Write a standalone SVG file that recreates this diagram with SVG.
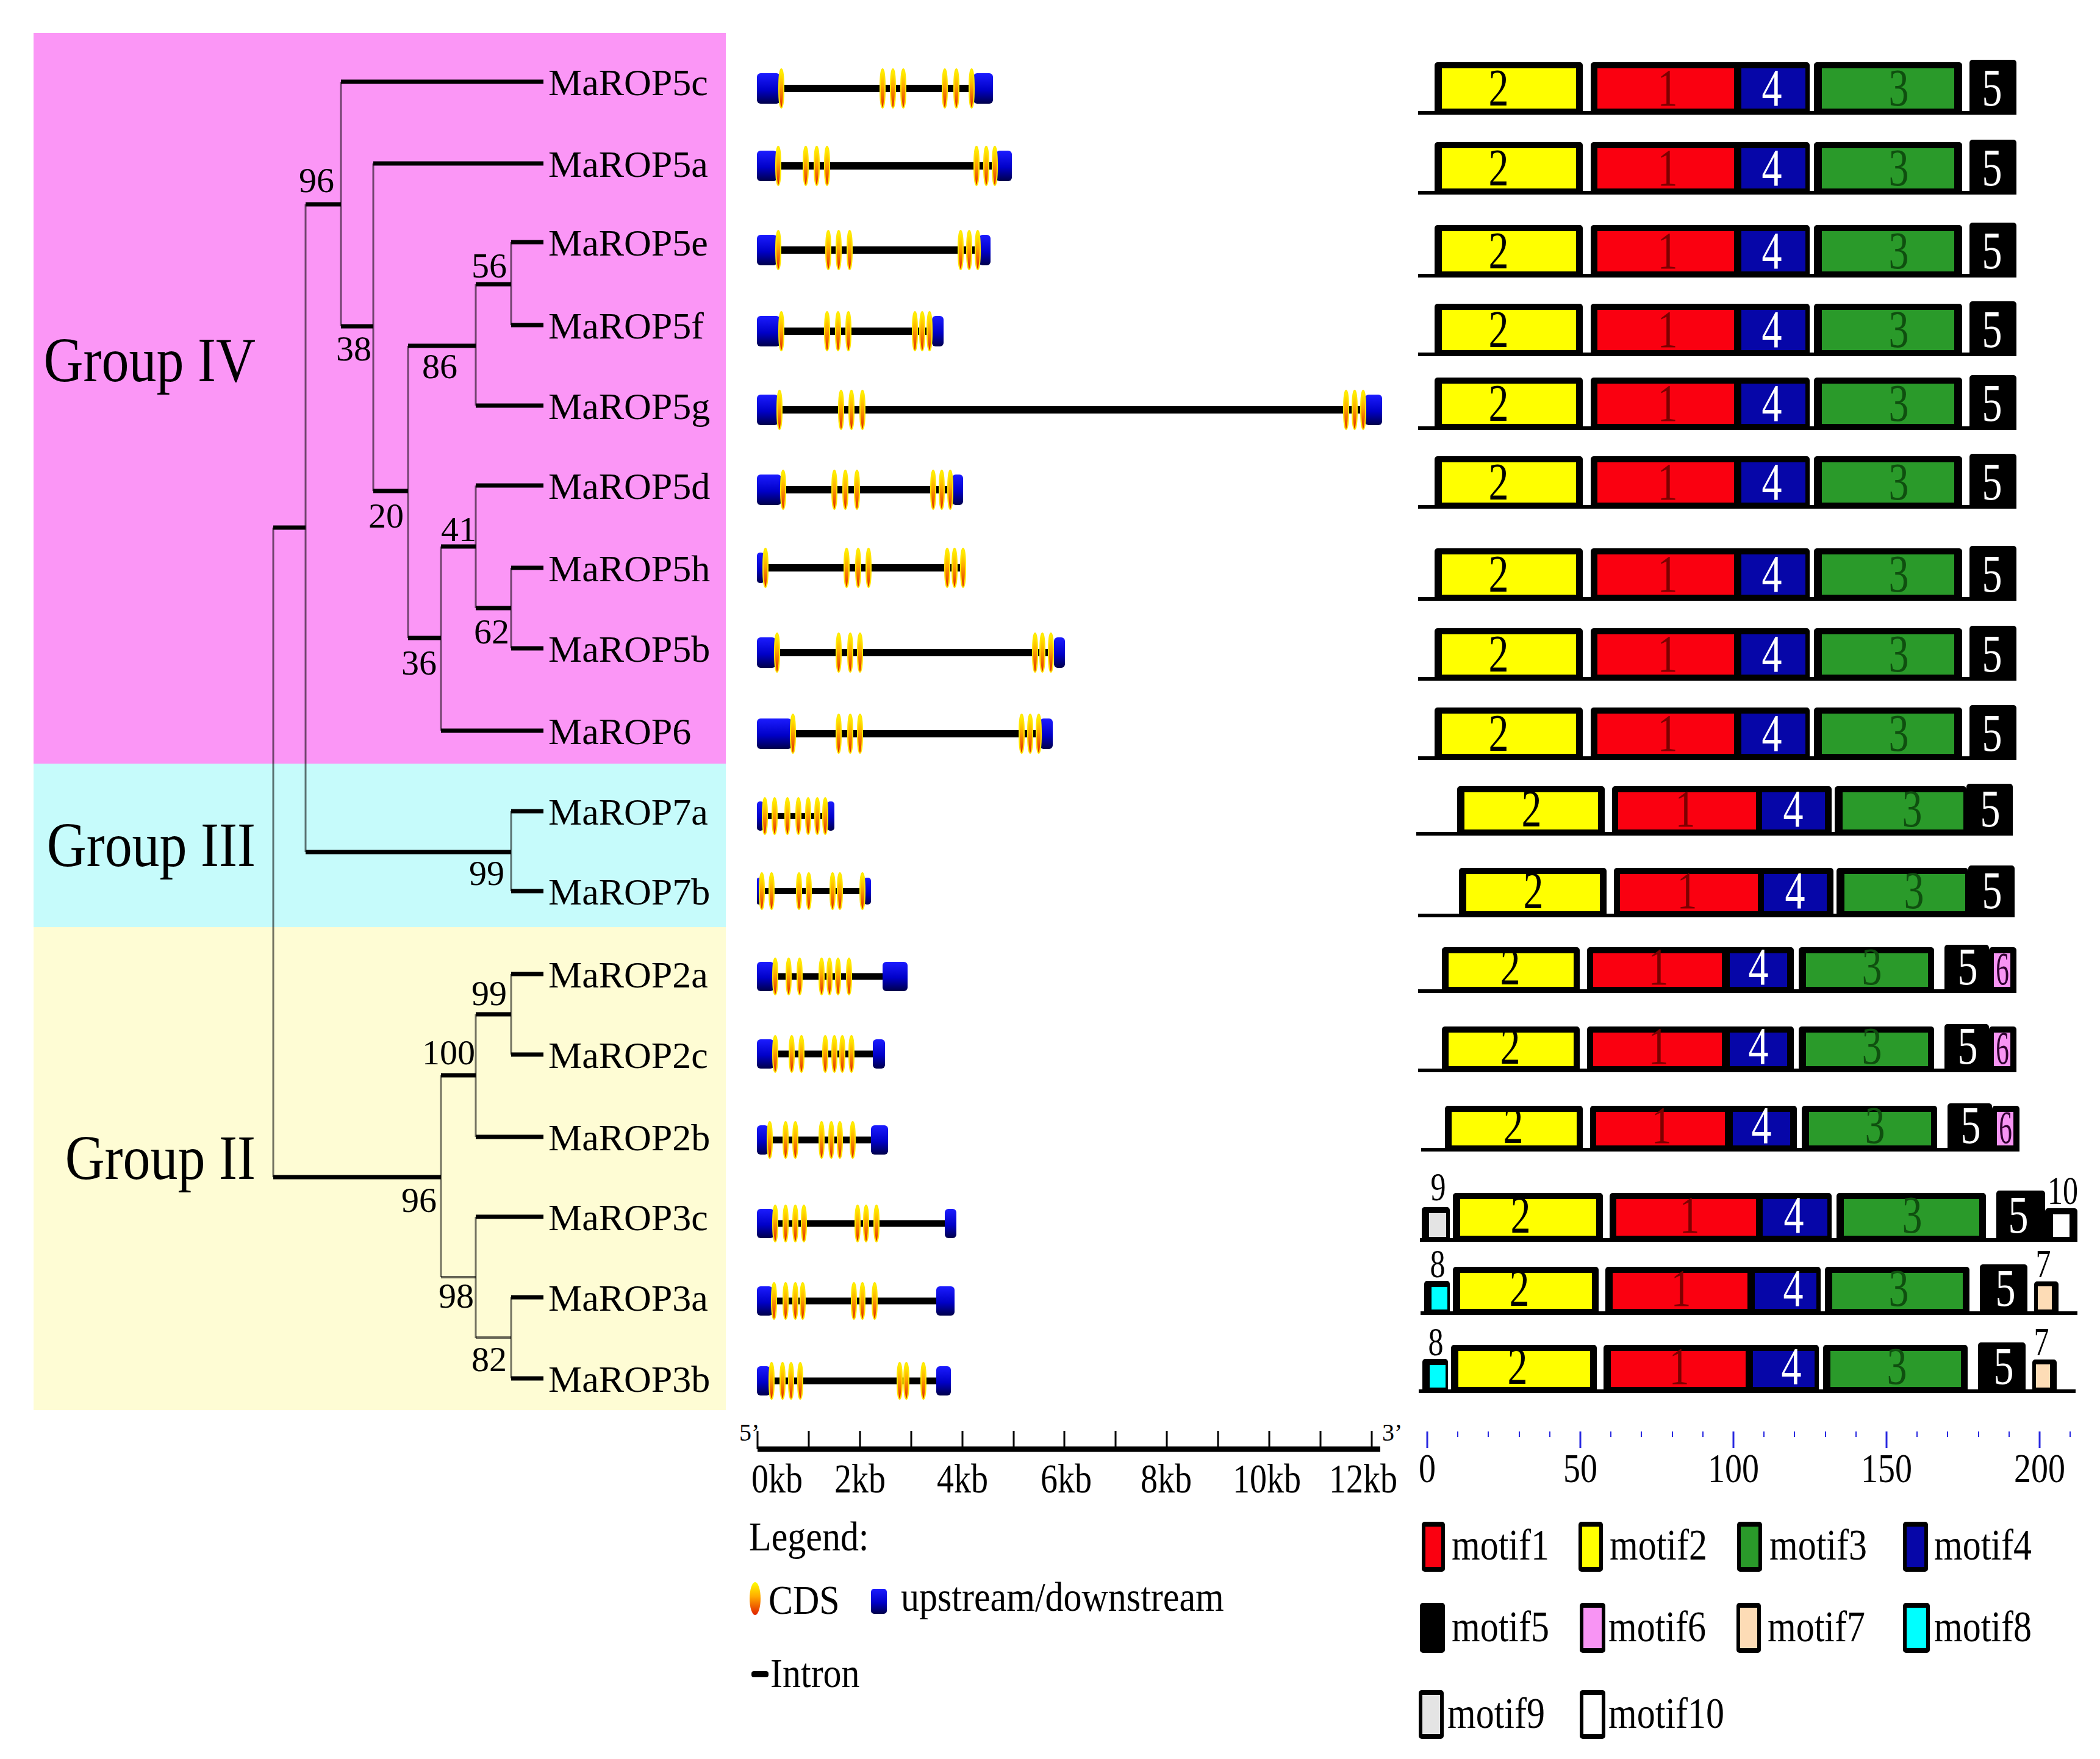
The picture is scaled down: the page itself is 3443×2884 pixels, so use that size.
<svg xmlns="http://www.w3.org/2000/svg" width="3443" height="2884" viewBox="0 0 3443 2884">
<style>
text{font-family:"Liberation Serif","Times New Roman",serif;fill:#000}
.leaf{font-size:62px}
.grp{font-size:90px;text-anchor:end}
.bs{font-size:58px}
.br{stroke:#000;stroke-width:7;fill:none}
.brt{stroke:#000;stroke-opacity:.6;stroke-width:4;fill:none}
.vt{stroke:#000;stroke-opacity:.55;stroke-width:3;fill:none}
.intron{stroke:#000;stroke-width:12}
.utr{fill:url(#gBlue)}
.exon{fill:url(#gExon);stroke:#ffe600;stroke-width:2}
.bl{stroke:#000;stroke-width:6}
rect.k{fill:#000;rx:5px}
.cy{fill:#ffff00}.cr{fill:#fa0010}.cb{fill:#0606a8}.cg{fill:#2a9a2a}.cp{fill:#f894f4}.cpe{fill:#fddcb6}.cc{fill:#00ffff}.cgr{fill:#e4e4e4}.cw{fill:#fff}
.dg{font-size:66px;text-anchor:middle}
.sm{font-size:50px;text-anchor:middle}
.t1{fill:#7d0000}.t3{fill:#0f4f0f}.tw{fill:#fff}.t6{fill:#300030;font-size:54px}
.ax{font-size:56px;text-anchor:middle}
.lg{font-size:60px}
.tk{stroke:#000;stroke-width:3}
.mt{stroke:#2828e0;stroke-width:3}
.mt2{stroke:#2828e0;stroke-width:2}
</style>
<defs>
<linearGradient id="gBlue" x1="0" y1="0" x2="0" y2="1"><stop offset="0" stop-color="#1c1cff"/><stop offset="0.55" stop-color="#0000c8"/><stop offset="1" stop-color="#00004a"/></linearGradient>
<linearGradient id="gExon" x1="0" y1="0" x2="0" y2="1"><stop offset="0" stop-color="#ffff00"/><stop offset="0.45" stop-color="#ffa800"/><stop offset="1" stop-color="#e02000"/></linearGradient>
</defs>
<rect width="3443" height="2884" fill="#fff"/>
<g id="groups">
<rect x="55" y="54" width="1135" height="1198" fill="#fb96f6"/>
<rect x="55" y="1252" width="1135" height="268" fill="#c6fbfb"/>
<rect x="55" y="1520" width="1135" height="792" fill="#fefcd4"/>
<text class="grp" transform="translate(419,625) scale(1,1.15)">Group IV</text>
<text class="grp" transform="translate(419,1420) scale(1,1.15)">Group III</text>
<text class="grp" transform="translate(419,1933) scale(1,1.15)">Group II</text>
</g>
<g id="connectors">
<path class="vt" d="M448 865V1930 M501 335V1397 M559 134V535 M612 268V805 M669 567V1046 M780 466V665 M838 397V533 M723 896V1198 M780 796V997 M838 931V1063 M838 1330V1461 M723 1763V2094 M780 1663V1864 M838 1597V1729 M780 1995V2194 M838 2127V2260"/>
<path class="br" d="M559 134H891 M612 268H891 M838 397H891 M838 533H891 M780 665H891 M780 796H891 M838 931H891 M838 1063H891 M723 1198H891 M838 1330H891 M838 1461H891 M838 1597H891 M838 1729H891 M780 1864H891 M780 1995H891 M838 2127H891 M838 2260H891"/>
<path class="br" d="M501 335H559 M559 535H612 M612 805H669 M669 567H780 M780 466H838 M669 1046H723 M723 896H780 M780 997H838 M448 865H501 M501 1397H838 M448 1930H723 M723 1763H780 M780 1663H838"/>
<path class="brt" d="M723 2094H780 M780 2193H838"/>
</g>
<g id="bootstrap">
<text class="bs" x="490" y="315">96</text>
<text class="bs" x="551" y="591">38</text>
<text class="bs" x="692" y="620">86</text>
<text class="bs" x="773" y="455">56</text>
<text class="bs" x="604" y="865">20</text>
<text class="bs" x="723" y="887">41</text>
<text class="bs" x="777" y="1055">62</text>
<text class="bs" x="658" y="1106">36</text>
<text class="bs" x="769" y="1451">99</text>
<text class="bs" x="773" y="1648">99</text>
<text class="bs" x="692" y="1745">100</text>
<text class="bs" x="658" y="1987">96</text>
<text class="bs" x="719" y="2144">98</text>
<text class="bs" x="773" y="2248">82</text>
</g>
<g id="leaf-MaROP5c"><text class="leaf" x="899" y="156">MaROP5c</text></g>
<g id="leaf-MaROP5a"><text class="leaf" x="899" y="290">MaROP5a</text></g>
<g id="leaf-MaROP5e"><text class="leaf" x="899" y="419">MaROP5e</text></g>
<g id="leaf-MaROP5f"><text class="leaf" x="899" y="555">MaROP5f</text></g>
<g id="leaf-MaROP5g"><text class="leaf" x="899" y="687">MaROP5g</text></g>
<g id="leaf-MaROP5d"><text class="leaf" x="899" y="818">MaROP5d</text></g>
<g id="leaf-MaROP5h"><text class="leaf" x="899" y="953">MaROP5h</text></g>
<g id="leaf-MaROP5b"><text class="leaf" x="899" y="1085">MaROP5b</text></g>
<g id="leaf-MaROP6"><text class="leaf" x="899" y="1220">MaROP6</text></g>
<g id="leaf-MaROP7a"><text class="leaf" x="899" y="1352">MaROP7a</text></g>
<g id="leaf-MaROP7b"><text class="leaf" x="899" y="1483">MaROP7b</text></g>
<g id="leaf-MaROP2a"><text class="leaf" x="899" y="1619">MaROP2a</text></g>
<g id="leaf-MaROP2c"><text class="leaf" x="899" y="1751">MaROP2c</text></g>
<g id="leaf-MaROP2b"><text class="leaf" x="899" y="1886">MaROP2b</text></g>
<g id="leaf-MaROP3c"><text class="leaf" x="899" y="2017">MaROP3c</text></g>
<g id="leaf-MaROP3a"><text class="leaf" x="899" y="2149">MaROP3a</text></g>
<g id="leaf-MaROP3b"><text class="leaf" x="899" y="2282">MaROP3b</text></g>

<g id="gene-MaROP5c" transform="translate(0,145)">
<line class="intron" x1="1279" y1="0" x2="1596" y2="0"/>
<rect class="utr" x="1241" y="-25" width="38" height="50" rx="6"/><rect class="utr" x="1596" y="-25" width="32" height="50" rx="6"/>
<ellipse class="exon" cx="1281" cy="0" rx="4" ry="32"/><ellipse class="exon" cx="1447" cy="0" rx="4" ry="32"/><ellipse class="exon" cx="1464" cy="0" rx="4" ry="32"/><ellipse class="exon" cx="1481" cy="0" rx="4" ry="32"/><ellipse class="exon" cx="1549" cy="0" rx="4" ry="32"/><ellipse class="exon" cx="1568" cy="0" rx="4" ry="32"/><ellipse class="exon" cx="1593" cy="0" rx="4" ry="32"/>
</g>
<g id="gene-MaROP5a" transform="translate(0,272)">
<line class="intron" x1="1274" y1="0" x2="1633" y2="0"/>
<rect class="utr" x="1241" y="-25" width="33" height="50" rx="6"/><rect class="utr" x="1633" y="-25" width="26" height="50" rx="6"/>
<ellipse class="exon" cx="1276" cy="0" rx="4" ry="32"/><ellipse class="exon" cx="1321" cy="0" rx="4" ry="32"/><ellipse class="exon" cx="1339" cy="0" rx="4" ry="32"/><ellipse class="exon" cx="1356" cy="0" rx="4" ry="32"/><ellipse class="exon" cx="1601" cy="0" rx="4" ry="32"/><ellipse class="exon" cx="1617" cy="0" rx="4" ry="32"/><ellipse class="exon" cx="1631" cy="0" rx="4" ry="32"/>
</g>
<g id="gene-MaROP5e" transform="translate(0,410)">
<line class="intron" x1="1274" y1="0" x2="1605" y2="0"/>
<rect class="utr" x="1241" y="-25" width="33" height="50" rx="6"/><rect class="utr" x="1605" y="-25" width="19" height="50" rx="6"/>
<ellipse class="exon" cx="1276" cy="0" rx="4" ry="32"/><ellipse class="exon" cx="1358" cy="0" rx="4" ry="32"/><ellipse class="exon" cx="1375" cy="0" rx="4" ry="32"/><ellipse class="exon" cx="1393" cy="0" rx="4" ry="32"/><ellipse class="exon" cx="1575" cy="0" rx="4" ry="32"/><ellipse class="exon" cx="1589" cy="0" rx="4" ry="32"/><ellipse class="exon" cx="1603" cy="0" rx="4" ry="32"/>
</g>
<g id="gene-MaROP5f" transform="translate(0,543)">
<line class="intron" x1="1279" y1="0" x2="1528" y2="0"/>
<rect class="utr" x="1241" y="-25" width="38" height="50" rx="6"/><rect class="utr" x="1528" y="-25" width="19" height="50" rx="6"/>
<ellipse class="exon" cx="1281" cy="0" rx="4" ry="32"/><ellipse class="exon" cx="1356" cy="0" rx="4" ry="32"/><ellipse class="exon" cx="1374" cy="0" rx="4" ry="32"/><ellipse class="exon" cx="1391" cy="0" rx="4" ry="32"/><ellipse class="exon" cx="1500" cy="0" rx="4" ry="32"/><ellipse class="exon" cx="1512" cy="0" rx="4" ry="32"/><ellipse class="exon" cx="1524" cy="0" rx="4" ry="32"/>
</g>
<g id="gene-MaROP5g" transform="translate(0,672)">
<line class="intron" x1="1276" y1="0" x2="2238" y2="0"/>
<rect class="utr" x="1241" y="-25" width="35" height="50" rx="6"/><rect class="utr" x="2238" y="-25" width="28" height="50" rx="6"/>
<ellipse class="exon" cx="1278" cy="0" rx="4" ry="32"/><ellipse class="exon" cx="1379" cy="0" rx="4" ry="32"/><ellipse class="exon" cx="1396" cy="0" rx="4" ry="32"/><ellipse class="exon" cx="1414" cy="0" rx="4" ry="32"/><ellipse class="exon" cx="2207" cy="0" rx="4" ry="32"/><ellipse class="exon" cx="2221" cy="0" rx="4" ry="32"/><ellipse class="exon" cx="2235" cy="0" rx="4" ry="32"/>
</g>
<g id="gene-MaROP5d" transform="translate(0,803)">
<line class="intron" x1="1281" y1="0" x2="1561" y2="0"/>
<rect class="utr" x="1241" y="-25" width="40" height="50" rx="6"/><rect class="utr" x="1561" y="-25" width="18" height="50" rx="6"/>
<ellipse class="exon" cx="1284" cy="0" rx="4" ry="32"/><ellipse class="exon" cx="1368" cy="0" rx="4" ry="32"/><ellipse class="exon" cx="1386" cy="0" rx="4" ry="32"/><ellipse class="exon" cx="1405" cy="0" rx="4" ry="32"/><ellipse class="exon" cx="1530" cy="0" rx="4" ry="32"/><ellipse class="exon" cx="1544" cy="0" rx="4" ry="32"/><ellipse class="exon" cx="1558" cy="0" rx="4" ry="32"/>
</g>
<g id="gene-MaROP5h" transform="translate(0,931)">
<line class="intron" x1="1253" y1="0" x2="1579" y2="0"/>
<rect class="utr" x="1241" y="-25" width="12" height="50" rx="5"/>
<ellipse class="exon" cx="1255" cy="0" rx="4" ry="32"/><ellipse class="exon" cx="1388" cy="0" rx="4" ry="32"/><ellipse class="exon" cx="1407" cy="0" rx="4" ry="32"/><ellipse class="exon" cx="1424" cy="0" rx="4" ry="32"/><ellipse class="exon" cx="1553" cy="0" rx="4" ry="32"/><ellipse class="exon" cx="1565" cy="0" rx="4" ry="32"/><ellipse class="exon" cx="1579" cy="0" rx="4" ry="32"/>
</g>
<g id="gene-MaROP5b" transform="translate(0,1070)">
<line class="intron" x1="1272" y1="0" x2="1728" y2="0"/>
<rect class="utr" x="1241" y="-25" width="31" height="50" rx="6"/><rect class="utr" x="1728" y="-25" width="18" height="50" rx="6"/>
<ellipse class="exon" cx="1274" cy="0" rx="4" ry="32"/><ellipse class="exon" cx="1375" cy="0" rx="4" ry="32"/><ellipse class="exon" cx="1394" cy="0" rx="4" ry="32"/><ellipse class="exon" cx="1410" cy="0" rx="4" ry="32"/><ellipse class="exon" cx="1697" cy="0" rx="4" ry="32"/><ellipse class="exon" cx="1709" cy="0" rx="4" ry="32"/><ellipse class="exon" cx="1723" cy="0" rx="4" ry="32"/>
</g>
<g id="gene-MaROP6" transform="translate(0,1203)">
<line class="intron" x1="1298" y1="0" x2="1705" y2="0"/>
<rect class="utr" x="1241" y="-25" width="57" height="50" rx="6"/><rect class="utr" x="1705" y="-25" width="21" height="50" rx="6"/>
<ellipse class="exon" cx="1300" cy="0" rx="4" ry="32"/><ellipse class="exon" cx="1375" cy="0" rx="4" ry="32"/><ellipse class="exon" cx="1394" cy="0" rx="4" ry="32"/><ellipse class="exon" cx="1410" cy="0" rx="4" ry="32"/><ellipse class="exon" cx="1675" cy="0" rx="4" ry="32"/><ellipse class="exon" cx="1689" cy="0" rx="4" ry="32"/><ellipse class="exon" cx="1703" cy="0" rx="4" ry="32"/>
</g>
<g id="gene-MaROP7a" transform="translate(0,1338)">
<line class="intron" x1="1252" y1="0" x2="1356" y2="0" style="stroke-width:10"/>
<rect class="utr" x="1241" y="-24" width="11" height="48" rx="5"/><rect class="utr" x="1356" y="-24" width="12" height="48" rx="5"/>
<ellipse class="exon" cx="1254" cy="0" rx="4" ry="30"/><ellipse class="exon" cx="1270" cy="0" rx="4" ry="30"/><ellipse class="exon" cx="1291" cy="0" rx="4" ry="30"/><ellipse class="exon" cx="1309" cy="0" rx="4" ry="30"/><ellipse class="exon" cx="1325" cy="0" rx="4" ry="30"/><ellipse class="exon" cx="1340" cy="0" rx="4" ry="30"/><ellipse class="exon" cx="1353" cy="0" rx="4" ry="30"/>
</g>
<g id="gene-MaROP7b" transform="translate(0,1461)">
<line class="intron" x1="1247" y1="0" x2="1416" y2="0" style="stroke-width:10"/>
<rect class="utr" x="1241" y="-22" width="7" height="44" rx="3"/><rect class="utr" x="1416" y="-22" width="12" height="44" rx="5"/>
<ellipse class="exon" cx="1249" cy="0" rx="4" ry="30"/><ellipse class="exon" cx="1265" cy="0" rx="4" ry="30"/><ellipse class="exon" cx="1310" cy="0" rx="4" ry="30"/><ellipse class="exon" cx="1326" cy="0" rx="4" ry="30"/><ellipse class="exon" cx="1365" cy="0" rx="4" ry="30"/><ellipse class="exon" cx="1377" cy="0" rx="4" ry="30"/><ellipse class="exon" cx="1414" cy="0" rx="4" ry="30"/>
</g>
<g id="gene-MaROP2a" transform="translate(0,1601)">
<line class="intron" x1="1269" y1="0" x2="1447" y2="0" style="stroke-width:11"/>
<rect class="utr" x="1241" y="-24" width="28" height="48" rx="6"/><rect class="utr" x="1447" y="-24" width="41" height="48" rx="6"/>
<ellipse class="exon" cx="1271" cy="0" rx="4" ry="30"/><ellipse class="exon" cx="1293" cy="0" rx="4" ry="30"/><ellipse class="exon" cx="1311" cy="0" rx="4" ry="30"/><ellipse class="exon" cx="1347" cy="0" rx="4" ry="30"/><ellipse class="exon" cx="1360" cy="0" rx="4" ry="30"/><ellipse class="exon" cx="1374" cy="0" rx="4" ry="30"/><ellipse class="exon" cx="1392" cy="0" rx="4" ry="30"/>
</g>
<g id="gene-MaROP2c" transform="translate(0,1728)">
<line class="intron" x1="1269" y1="0" x2="1431" y2="0" style="stroke-width:11"/>
<rect class="utr" x="1241" y="-24" width="28" height="48" rx="6"/><rect class="utr" x="1431" y="-24" width="20" height="48" rx="6"/>
<ellipse class="exon" cx="1271" cy="0" rx="4" ry="30"/><ellipse class="exon" cx="1298" cy="0" rx="4" ry="30"/><ellipse class="exon" cx="1314" cy="0" rx="4" ry="30"/><ellipse class="exon" cx="1353" cy="0" rx="4" ry="30"/><ellipse class="exon" cx="1368" cy="0" rx="4" ry="30"/><ellipse class="exon" cx="1381" cy="0" rx="4" ry="30"/><ellipse class="exon" cx="1396" cy="0" rx="4" ry="30"/>
</g>
<g id="gene-MaROP2b" transform="translate(0,1869)">
<line class="intron" x1="1260" y1="0" x2="1428" y2="0" style="stroke-width:11"/>
<rect class="utr" x="1241" y="-24" width="19" height="48" rx="6"/><rect class="utr" x="1428" y="-24" width="28" height="48" rx="6"/>
<ellipse class="exon" cx="1262" cy="0" rx="4" ry="30"/><ellipse class="exon" cx="1288" cy="0" rx="4" ry="30"/><ellipse class="exon" cx="1304" cy="0" rx="4" ry="30"/><ellipse class="exon" cx="1347" cy="0" rx="4" ry="30"/><ellipse class="exon" cx="1363" cy="0" rx="4" ry="30"/><ellipse class="exon" cx="1377" cy="0" rx="4" ry="30"/><ellipse class="exon" cx="1398" cy="0" rx="4" ry="30"/>
</g>
<g id="gene-MaROP3c" transform="translate(0,2006)">
<line class="intron" x1="1269" y1="0" x2="1549" y2="0" style="stroke-width:11"/>
<rect class="utr" x="1241" y="-24" width="28" height="48" rx="6"/><rect class="utr" x="1549" y="-24" width="19" height="48" rx="6"/>
<ellipse class="exon" cx="1271" cy="0" rx="4" ry="30"/><ellipse class="exon" cx="1288" cy="0" rx="4" ry="30"/><ellipse class="exon" cx="1304" cy="0" rx="4" ry="30"/><ellipse class="exon" cx="1318" cy="0" rx="4" ry="30"/><ellipse class="exon" cx="1406" cy="0" rx="4" ry="30"/><ellipse class="exon" cx="1420" cy="0" rx="4" ry="30"/><ellipse class="exon" cx="1437" cy="0" rx="4" ry="30"/>
</g>
<g id="gene-MaROP3a" transform="translate(0,2133)">
<line class="intron" x1="1267" y1="0" x2="1535" y2="0" style="stroke-width:11"/>
<rect class="utr" x="1241" y="-24" width="26" height="48" rx="6"/><rect class="utr" x="1535" y="-24" width="30" height="48" rx="6"/>
<ellipse class="exon" cx="1269" cy="0" rx="4" ry="30"/><ellipse class="exon" cx="1288" cy="0" rx="4" ry="30"/><ellipse class="exon" cx="1304" cy="0" rx="4" ry="30"/><ellipse class="exon" cx="1316" cy="0" rx="4" ry="30"/><ellipse class="exon" cx="1400" cy="0" rx="4" ry="30"/><ellipse class="exon" cx="1414" cy="0" rx="4" ry="30"/><ellipse class="exon" cx="1434" cy="0" rx="4" ry="30"/>
</g>
<g id="gene-MaROP3b" transform="translate(0,2264)">
<line class="intron" x1="1263" y1="0" x2="1535" y2="0" style="stroke-width:11"/>
<rect class="utr" x="1241" y="-24" width="22" height="48" rx="6"/><rect class="utr" x="1535" y="-24" width="24" height="48" rx="6"/>
<ellipse class="exon" cx="1265" cy="0" rx="4" ry="30"/><ellipse class="exon" cx="1283" cy="0" rx="4" ry="30"/><ellipse class="exon" cx="1297" cy="0" rx="4" ry="30"/><ellipse class="exon" cx="1312" cy="0" rx="4" ry="30"/><ellipse class="exon" cx="1475" cy="0" rx="4" ry="30"/><ellipse class="exon" cx="1486" cy="0" rx="4" ry="30"/><ellipse class="exon" cx="1514" cy="0" rx="4" ry="30"/>
</g>

<g id="gene-scale">
<line x1="1242" y1="2376" x2="2263" y2="2376" stroke="#000" stroke-width="9"/>
<path class="tk" d="M1242 2346V2376 M1326 2346V2376 M1410 2346V2376 M1494 2346V2376 M1578 2346V2376 M1662 2346V2376 M1745 2346V2376 M1829 2346V2376 M1913 2346V2376 M1997 2346V2376 M2081 2346V2376 M2165 2346V2376 M2249 2346V2376"/>
<text x="1212" y="2362" style="font-size:40px">5’</text>
<text x="2266" y="2362" style="font-size:40px">3’</text>
<text class="ax" transform="translate(1274,2447) scale(1,1.2)">0kb</text>
<text class="ax" transform="translate(1410,2447) scale(1,1.2)">2kb</text>
<text class="ax" transform="translate(1578,2447) scale(1,1.2)">4kb</text>
<text class="ax" transform="translate(1748,2447) scale(1,1.2)">6kb</text>
<text class="ax" transform="translate(1912,2447) scale(1,1.2)">8kb</text>
<text class="ax" transform="translate(2077,2447) scale(1,1.2)">10kb</text>
<text class="ax" transform="translate(2235,2447) scale(1,1.2)">12kb</text>
</g>
<g id="gene-legend">
<text class="lg" transform="translate(1228,2542) scale(1,1.12)">Legend:</text>
<ellipse cx="1238" cy="2621" rx="9" ry="27" fill="url(#gExon)"/>
<text class="lg" transform="translate(1260,2646) scale(1,1.12)">CDS</text>
<rect x="1428" y="2605" width="26" height="41" rx="5" fill="url(#gBlue)"/>
<text class="lg" transform="translate(1477,2641) scale(1,1.12)">upstream/downstream</text>
<rect x="1232" y="2740" width="28" height="10" rx="4" fill="#000"/>
<text class="lg" transform="translate(1263,2766) scale(1,1.12)">Intron</text>
</g>

<g id="motif-MaROP5c" transform="translate(0,102)">
<line class="bl" x1="2325" y1="83" x2="3306" y2="83"/>
<rect class="k" x="2352" y="0" width="243" height="86"/><rect class="cy" x="2364" y="10" width="220" height="66"/>
<rect class="k" x="2608" y="0" width="359" height="86"/><rect class="cr" x="2619" y="10" width="224" height="66"/><rect class="cb" x="2855" y="10" width="105" height="66"/>
<rect class="k" x="2974" y="0" width="243" height="86"/><rect class="cg" x="2987" y="10" width="217" height="66"/>
<rect class="k" x="3229" y="-4" width="77" height="90"/>
<text class="dg" transform="translate(2457,71) scale(1,1.3)">2</text><text class="dg t1" transform="translate(2734,71) scale(1,1.3)">1</text><text class="dg tw" transform="translate(2905,71) scale(1,1.3)">4</text><text class="dg t3" transform="translate(3113,71) scale(1,1.3)">3</text><text class="dg tw" transform="translate(3266,71) scale(1,1.3)">5</text>
</g>
<g id="motif-MaROP5a" transform="translate(0,233)">
<line class="bl" x1="2325" y1="83" x2="3306" y2="83"/>
<rect class="k" x="2352" y="0" width="243" height="86"/><rect class="cy" x="2364" y="10" width="220" height="66"/>
<rect class="k" x="2608" y="0" width="359" height="86"/><rect class="cr" x="2619" y="10" width="224" height="66"/><rect class="cb" x="2855" y="10" width="105" height="66"/>
<rect class="k" x="2974" y="0" width="243" height="86"/><rect class="cg" x="2987" y="10" width="217" height="66"/>
<rect class="k" x="3229" y="-4" width="77" height="90"/>
<text class="dg" transform="translate(2457,71) scale(1,1.3)">2</text><text class="dg t1" transform="translate(2734,71) scale(1,1.3)">1</text><text class="dg tw" transform="translate(2905,71) scale(1,1.3)">4</text><text class="dg t3" transform="translate(3113,71) scale(1,1.3)">3</text><text class="dg tw" transform="translate(3266,71) scale(1,1.3)">5</text>
</g>
<g id="motif-MaROP5e" transform="translate(0,369)">
<line class="bl" x1="2325" y1="83" x2="3306" y2="83"/>
<rect class="k" x="2352" y="0" width="243" height="86"/><rect class="cy" x="2364" y="10" width="220" height="66"/>
<rect class="k" x="2608" y="0" width="359" height="86"/><rect class="cr" x="2619" y="10" width="224" height="66"/><rect class="cb" x="2855" y="10" width="105" height="66"/>
<rect class="k" x="2974" y="0" width="243" height="86"/><rect class="cg" x="2987" y="10" width="217" height="66"/>
<rect class="k" x="3229" y="-4" width="77" height="90"/>
<text class="dg" transform="translate(2457,71) scale(1,1.3)">2</text><text class="dg t1" transform="translate(2734,71) scale(1,1.3)">1</text><text class="dg tw" transform="translate(2905,71) scale(1,1.3)">4</text><text class="dg t3" transform="translate(3113,71) scale(1,1.3)">3</text><text class="dg tw" transform="translate(3266,71) scale(1,1.3)">5</text>
</g>
<g id="motif-MaROP5f" transform="translate(0,498)">
<line class="bl" x1="2325" y1="83" x2="3306" y2="83"/>
<rect class="k" x="2352" y="0" width="243" height="86"/><rect class="cy" x="2364" y="10" width="220" height="66"/>
<rect class="k" x="2608" y="0" width="359" height="86"/><rect class="cr" x="2619" y="10" width="224" height="66"/><rect class="cb" x="2855" y="10" width="105" height="66"/>
<rect class="k" x="2974" y="0" width="243" height="86"/><rect class="cg" x="2987" y="10" width="217" height="66"/>
<rect class="k" x="3229" y="-4" width="77" height="90"/>
<text class="dg" transform="translate(2457,71) scale(1,1.3)">2</text><text class="dg t1" transform="translate(2734,71) scale(1,1.3)">1</text><text class="dg tw" transform="translate(2905,71) scale(1,1.3)">4</text><text class="dg t3" transform="translate(3113,71) scale(1,1.3)">3</text><text class="dg tw" transform="translate(3266,71) scale(1,1.3)">5</text>
</g>
<g id="motif-MaROP5g" transform="translate(0,619)">
<line class="bl" x1="2325" y1="83" x2="3306" y2="83"/>
<rect class="k" x="2352" y="0" width="243" height="86"/><rect class="cy" x="2364" y="10" width="220" height="66"/>
<rect class="k" x="2608" y="0" width="359" height="86"/><rect class="cr" x="2619" y="10" width="224" height="66"/><rect class="cb" x="2855" y="10" width="105" height="66"/>
<rect class="k" x="2974" y="0" width="243" height="86"/><rect class="cg" x="2987" y="10" width="217" height="66"/>
<rect class="k" x="3229" y="-4" width="77" height="90"/>
<text class="dg" transform="translate(2457,71) scale(1,1.3)">2</text><text class="dg t1" transform="translate(2734,71) scale(1,1.3)">1</text><text class="dg tw" transform="translate(2905,71) scale(1,1.3)">4</text><text class="dg t3" transform="translate(3113,71) scale(1,1.3)">3</text><text class="dg tw" transform="translate(3266,71) scale(1,1.3)">5</text>
</g>
<g id="motif-MaROP5d" transform="translate(0,748)">
<line class="bl" x1="2325" y1="83" x2="3306" y2="83"/>
<rect class="k" x="2352" y="0" width="243" height="86"/><rect class="cy" x="2364" y="10" width="220" height="66"/>
<rect class="k" x="2608" y="0" width="359" height="86"/><rect class="cr" x="2619" y="10" width="224" height="66"/><rect class="cb" x="2855" y="10" width="105" height="66"/>
<rect class="k" x="2974" y="0" width="243" height="86"/><rect class="cg" x="2987" y="10" width="217" height="66"/>
<rect class="k" x="3229" y="-4" width="77" height="90"/>
<text class="dg" transform="translate(2457,71) scale(1,1.3)">2</text><text class="dg t1" transform="translate(2734,71) scale(1,1.3)">1</text><text class="dg tw" transform="translate(2905,71) scale(1,1.3)">4</text><text class="dg t3" transform="translate(3113,71) scale(1,1.3)">3</text><text class="dg tw" transform="translate(3266,71) scale(1,1.3)">5</text>
</g>
<g id="motif-MaROP5h" transform="translate(0,899)">
<line class="bl" x1="2325" y1="83" x2="3306" y2="83"/>
<rect class="k" x="2352" y="0" width="243" height="86"/><rect class="cy" x="2364" y="10" width="220" height="66"/>
<rect class="k" x="2608" y="0" width="359" height="86"/><rect class="cr" x="2619" y="10" width="224" height="66"/><rect class="cb" x="2855" y="10" width="105" height="66"/>
<rect class="k" x="2974" y="0" width="243" height="86"/><rect class="cg" x="2987" y="10" width="217" height="66"/>
<rect class="k" x="3229" y="-4" width="77" height="90"/>
<text class="dg" transform="translate(2457,71) scale(1,1.3)">2</text><text class="dg t1" transform="translate(2734,71) scale(1,1.3)">1</text><text class="dg tw" transform="translate(2905,71) scale(1,1.3)">4</text><text class="dg t3" transform="translate(3113,71) scale(1,1.3)">3</text><text class="dg tw" transform="translate(3266,71) scale(1,1.3)">5</text>
</g>
<g id="motif-MaROP5b" transform="translate(0,1030)">
<line class="bl" x1="2325" y1="83" x2="3306" y2="83"/>
<rect class="k" x="2352" y="0" width="243" height="86"/><rect class="cy" x="2364" y="10" width="220" height="66"/>
<rect class="k" x="2608" y="0" width="359" height="86"/><rect class="cr" x="2619" y="10" width="224" height="66"/><rect class="cb" x="2855" y="10" width="105" height="66"/>
<rect class="k" x="2974" y="0" width="243" height="86"/><rect class="cg" x="2987" y="10" width="217" height="66"/>
<rect class="k" x="3229" y="-4" width="77" height="90"/>
<text class="dg" transform="translate(2457,71) scale(1,1.3)">2</text><text class="dg t1" transform="translate(2734,71) scale(1,1.3)">1</text><text class="dg tw" transform="translate(2905,71) scale(1,1.3)">4</text><text class="dg t3" transform="translate(3113,71) scale(1,1.3)">3</text><text class="dg tw" transform="translate(3266,71) scale(1,1.3)">5</text>
</g>
<g id="motif-MaROP6" transform="translate(0,1160)">
<line class="bl" x1="2325" y1="83" x2="3306" y2="83"/>
<rect class="k" x="2352" y="0" width="243" height="86"/><rect class="cy" x="2364" y="10" width="220" height="66"/>
<rect class="k" x="2608" y="0" width="359" height="86"/><rect class="cr" x="2619" y="10" width="224" height="66"/><rect class="cb" x="2855" y="10" width="105" height="66"/>
<rect class="k" x="2974" y="0" width="243" height="86"/><rect class="cg" x="2987" y="10" width="217" height="66"/>
<rect class="k" x="3229" y="-4" width="77" height="90"/>
<text class="dg" transform="translate(2457,71) scale(1,1.3)">2</text><text class="dg t1" transform="translate(2734,71) scale(1,1.3)">1</text><text class="dg tw" transform="translate(2905,71) scale(1,1.3)">4</text><text class="dg t3" transform="translate(3113,71) scale(1,1.3)">3</text><text class="dg tw" transform="translate(3266,71) scale(1,1.3)">5</text>
</g>
<g id="motif-MaROP7a" transform="translate(0,1289)">
<line class="bl" x1="2322" y1="78" x2="3300" y2="78"/>
<rect class="k" x="2389" y="0" width="242" height="81"/><rect class="cy" x="2401" y="10" width="219" height="61"/>
<rect class="k" x="2643" y="0" width="360" height="81"/><rect class="cr" x="2653" y="10" width="226" height="61"/><rect class="cb" x="2889" y="10" width="103" height="61"/>
<rect class="k" x="3008" y="0" width="216" height="81"/><rect class="cg" x="3021" y="10" width="198" height="61"/>
<rect class="k" x="3224" y="-4" width="76" height="85"/>
<text class="dg" transform="translate(2511,66) scale(1,1.3)">2</text><text class="dg t1" transform="translate(2763,66) scale(1,1.3)">1</text><text class="dg tw" transform="translate(2940,66) scale(1,1.3)">4</text><text class="dg t3" transform="translate(3135,66) scale(1,1.3)">3</text><text class="dg tw" transform="translate(3263,66) scale(1,1.3)">5</text>
</g>
<g id="motif-MaROP7b" transform="translate(3,1423)">
<line class="bl" x1="2322" y1="78" x2="3300" y2="78"/>
<rect class="k" x="2389" y="0" width="242" height="81"/><rect class="cy" x="2401" y="10" width="219" height="61"/>
<rect class="k" x="2643" y="0" width="360" height="81"/><rect class="cr" x="2653" y="10" width="226" height="61"/><rect class="cb" x="2889" y="10" width="103" height="61"/>
<rect class="k" x="3008" y="0" width="216" height="81"/><rect class="cg" x="3021" y="10" width="198" height="61"/>
<rect class="k" x="3224" y="-4" width="76" height="85"/>
<text class="dg" transform="translate(2511,66) scale(1,1.3)">2</text><text class="dg t1" transform="translate(2763,66) scale(1,1.3)">1</text><text class="dg tw" transform="translate(2940,66) scale(1,1.3)">4</text><text class="dg t3" transform="translate(3135,66) scale(1,1.3)">3</text><text class="dg tw" transform="translate(3263,66) scale(1,1.3)">5</text>
</g>
<g id="motif-MaROP2a" transform="translate(0,1553)">
<line class="bl" x1="2325" y1="72" x2="3306" y2="72"/>
<rect class="k" x="2364" y="0" width="226" height="75"/><rect class="cy" x="2375" y="10" width="205" height="55"/>
<rect class="k" x="2602" y="0" width="339" height="75"/><rect class="cr" x="2612" y="10" width="211" height="55"/><rect class="cb" x="2836" y="10" width="94" height="55"/>
<rect class="k" x="2949" y="0" width="222" height="75"/><rect class="cg" x="2961" y="10" width="200" height="55"/>
<rect class="k" x="3188" y="-4" width="73" height="79"/>
<rect class="k" x="3261" y="0" width="45" height="75"/><rect class="cp" x="3269" y="10" width="27" height="55"/>
<text class="dg" transform="translate(2476,61) scale(1,1.3)">2</text><text class="dg t1" transform="translate(2719,61) scale(1,1.3)">1</text><text class="dg tw" transform="translate(2883,61) scale(1,1.3)">4</text><text class="dg t3" transform="translate(3069,61) scale(1,1.3)">3</text><text class="dg tw" transform="translate(3226,61) scale(1,1.3)">5</text><text class="dg t6" transform="translate(3283,61) scale(0.8,1.4)">6</text>
</g>
<g id="motif-MaROP2c" transform="translate(0,1683)">
<line class="bl" x1="2325" y1="72" x2="3306" y2="72"/>
<rect class="k" x="2364" y="0" width="226" height="75"/><rect class="cy" x="2375" y="10" width="205" height="55"/>
<rect class="k" x="2602" y="0" width="339" height="75"/><rect class="cr" x="2612" y="10" width="211" height="55"/><rect class="cb" x="2836" y="10" width="94" height="55"/>
<rect class="k" x="2949" y="0" width="222" height="75"/><rect class="cg" x="2961" y="10" width="200" height="55"/>
<rect class="k" x="3188" y="-4" width="73" height="79"/>
<rect class="k" x="3261" y="0" width="45" height="75"/><rect class="cp" x="3269" y="10" width="27" height="55"/>
<text class="dg" transform="translate(2476,61) scale(1,1.3)">2</text><text class="dg t1" transform="translate(2719,61) scale(1,1.3)">1</text><text class="dg tw" transform="translate(2883,61) scale(1,1.3)">4</text><text class="dg t3" transform="translate(3069,61) scale(1,1.3)">3</text><text class="dg tw" transform="translate(3226,61) scale(1,1.3)">5</text><text class="dg t6" transform="translate(3283,61) scale(0.8,1.4)">6</text>
</g>
<g id="motif-MaROP2b" transform="translate(5,1813)">
<line class="bl" x1="2325" y1="72" x2="3306" y2="72"/>
<rect class="k" x="2364" y="0" width="226" height="75"/><rect class="cy" x="2375" y="10" width="205" height="55"/>
<rect class="k" x="2602" y="0" width="339" height="75"/><rect class="cr" x="2612" y="10" width="211" height="55"/><rect class="cb" x="2836" y="10" width="94" height="55"/>
<rect class="k" x="2949" y="0" width="222" height="75"/><rect class="cg" x="2961" y="10" width="200" height="55"/>
<rect class="k" x="3188" y="-4" width="73" height="79"/>
<rect class="k" x="3261" y="0" width="45" height="75"/><rect class="cp" x="3269" y="10" width="27" height="55"/>
<text class="dg" transform="translate(2476,61) scale(1,1.3)">2</text><text class="dg t1" transform="translate(2719,61) scale(1,1.3)">1</text><text class="dg tw" transform="translate(2883,61) scale(1,1.3)">4</text><text class="dg t3" transform="translate(3069,61) scale(1,1.3)">3</text><text class="dg tw" transform="translate(3226,61) scale(1,1.3)">5</text><text class="dg t6" transform="translate(3283,61) scale(0.8,1.4)">6</text>
</g>
<g id="motif-MaROP3c" transform="translate(0,1956)">
<line class="bl" x1="2328" y1="77" x2="3406" y2="77"/>
<rect class="k" x="2331" y="23" width="46" height="57"/><rect class="cgr" x="2343" y="33" width="28" height="39"/>
<text class="sm" transform="translate(2358,12) scale(1,1.3)">9</text>
<rect class="k" x="2382" y="0" width="246" height="80"/><rect class="cy" x="2394" y="10" width="223" height="60"/>
<rect class="k" x="2639" y="0" width="364" height="80"/><rect class="cr" x="2650" y="10" width="229" height="60"/><rect class="cb" x="2890" y="10" width="106" height="60"/>
<rect class="k" x="3011" y="0" width="245" height="80"/><rect class="cg" x="3023" y="10" width="222" height="60"/>
<rect class="k" x="3273" y="-4" width="80" height="84"/>
<rect class="k" x="3353" y="25" width="53" height="55"/><rect class="cw" x="3366" y="35" width="27" height="37"/>
<text class="sm" transform="translate(3382,18) scale(1,1.3)">10</text>
<text class="dg" transform="translate(2493,65) scale(1,1.3)">2</text><text class="dg t1" transform="translate(2770,65) scale(1,1.3)">1</text><text class="dg tw" transform="translate(2941,65) scale(1,1.3)">4</text><text class="dg t3" transform="translate(3135,65) scale(1,1.3)">3</text><text class="dg tw" transform="translate(3309,65) scale(1,1.3)">5</text>
</g>
<g id="motif-MaROP3a" transform="translate(0,2077)">
<line class="bl" x1="2329" y1="76" x2="3406" y2="76"/>
<rect class="k" x="2335" y="23" width="42" height="56"/><rect class="cc" x="2347" y="33" width="26" height="37"/>
<text class="sm" transform="translate(2357,17) scale(1,1.3)">8</text>
<rect class="k" x="2382" y="0" width="239" height="79"/><rect class="cy" x="2394" y="10" width="216" height="59"/>
<rect class="k" x="2632" y="0" width="353" height="79"/><rect class="cr" x="2644" y="10" width="221" height="59"/><rect class="cb" x="2877" y="10" width="101" height="59"/>
<rect class="k" x="2992" y="0" width="237" height="79"/><rect class="cg" x="3004" y="10" width="214" height="59"/>
<rect class="k" x="3246" y="-4" width="78" height="83"/>
<rect class="k" x="3335" y="24" width="40" height="55"/><rect class="cpe" x="3341" y="32" width="23" height="38"/>
<text class="sm" transform="translate(3350,17) scale(1,1.3)">7</text>
<text class="dg" transform="translate(2491,64) scale(1,1.3)">2</text><text class="dg t1" transform="translate(2756,64) scale(1,1.3)">1</text><text class="dg tw" transform="translate(2940,64) scale(1,1.3)">4</text><text class="dg t3" transform="translate(3113,64) scale(1,1.3)">3</text><text class="dg tw" transform="translate(3288,64) scale(1,1.3)">5</text>
</g>
<g id="motif-MaROP3b" transform="translate(-3,2205)">
<line class="bl" x1="2329" y1="76" x2="3406" y2="76"/>
<rect class="k" x="2335" y="23" width="42" height="56"/><rect class="cc" x="2347" y="33" width="26" height="37"/>
<text class="sm" transform="translate(2357,17) scale(1,1.3)">8</text>
<rect class="k" x="2382" y="0" width="239" height="79"/><rect class="cy" x="2394" y="10" width="216" height="59"/>
<rect class="k" x="2632" y="0" width="353" height="79"/><rect class="cr" x="2644" y="10" width="221" height="59"/><rect class="cb" x="2877" y="10" width="101" height="59"/>
<rect class="k" x="2992" y="0" width="237" height="79"/><rect class="cg" x="3004" y="10" width="214" height="59"/>
<rect class="k" x="3246" y="-4" width="78" height="83"/>
<rect class="k" x="3335" y="24" width="40" height="55"/><rect class="cpe" x="3341" y="32" width="23" height="38"/>
<text class="sm" transform="translate(3350,17) scale(1,1.3)">7</text>
<text class="dg" transform="translate(2491,64) scale(1,1.3)">2</text><text class="dg t1" transform="translate(2756,64) scale(1,1.3)">1</text><text class="dg tw" transform="translate(2940,64) scale(1,1.3)">4</text><text class="dg t3" transform="translate(3113,64) scale(1,1.3)">3</text><text class="dg tw" transform="translate(3288,64) scale(1,1.3)">5</text>
</g>

<g id="motif-scale">
<path class="mt" d="M2340 2347V2374 M2591 2347V2374 M2842 2347V2374 M3093 2347V2374 M3344 2347V2374"/>
<path class="mt2" d="M2390 2347V2356 M2440 2347V2356 M2491 2347V2356 M2541 2347V2356 M2641 2347V2356 M2691 2347V2356 M2742 2347V2356 M2792 2347V2356 M2892 2347V2356 M2942 2347V2356 M2993 2347V2356 M3043 2347V2356 M3143 2347V2356 M3193 2347V2356 M3244 2347V2356 M3294 2347V2356 M3394 2347V2356"/>
<text class="ax" transform="translate(2340,2430) scale(1,1.2)">0</text>
<text class="ax" transform="translate(2591,2430) scale(1,1.2)">50</text>
<text class="ax" transform="translate(2842,2430) scale(1,1.2)">100</text>
<text class="ax" transform="translate(3093,2430) scale(1,1.2)">150</text>
<text class="ax" transform="translate(3344,2430) scale(1,1.2)">200</text>
</g>
<g id="motif-legend">
<rect class="k" x="2331" y="2495" width="38" height="82"/><rect class="cr" x="2337" y="2503" width="26" height="66"/>
<text class="lg" transform="translate(2380,2557) scale(1,1.2)">motif1</text>
<rect class="k" x="2588" y="2495" width="40" height="82"/><rect class="cy" x="2594" y="2503" width="28" height="66"/>
<text class="lg" transform="translate(2639,2557) scale(1,1.2)">motif2</text>
<rect class="k" x="2848" y="2495" width="41" height="82"/><rect class="cg" x="2854" y="2503" width="29" height="66"/>
<text class="lg" transform="translate(2901,2557) scale(1,1.2)">motif3</text>
<rect class="k" x="3120" y="2495" width="41" height="82"/><rect class="cb" x="3126" y="2503" width="29" height="66"/>
<text class="lg" transform="translate(3171,2557) scale(1,1.2)">motif4</text>
<rect class="k" x="2328" y="2628" width="41" height="82"/>
<text class="lg" transform="translate(2380,2691) scale(1,1.2)">motif5</text>
<rect class="k" x="2590" y="2628" width="42" height="82"/><rect class="cp" x="2596" y="2636" width="30" height="66"/>
<text class="lg" transform="translate(2637,2691) scale(1,1.2)">motif6</text>
<rect class="k" x="2847" y="2628" width="40" height="82"/><rect class="cpe" x="2853" y="2636" width="28" height="66"/>
<text class="lg" transform="translate(2898,2691) scale(1,1.2)">motif7</text>
<rect class="k" x="3120" y="2628" width="44" height="82"/><rect class="cc" x="3126" y="2636" width="32" height="66"/>
<text class="lg" transform="translate(3171,2691) scale(1,1.2)">motif8</text>
<rect class="k" x="2326" y="2771" width="41" height="80"/><rect class="cgr" x="2332" y="2779" width="29" height="64"/>
<text class="lg" transform="translate(2373,2833) scale(1,1.2)">motif9</text>
<rect class="k" x="2590" y="2771" width="42" height="80"/><rect class="cw" x="2596" y="2779" width="30" height="64"/>
<text class="lg" transform="translate(2637,2833) scale(1,1.2)">motif10</text>
</g>
</svg>
